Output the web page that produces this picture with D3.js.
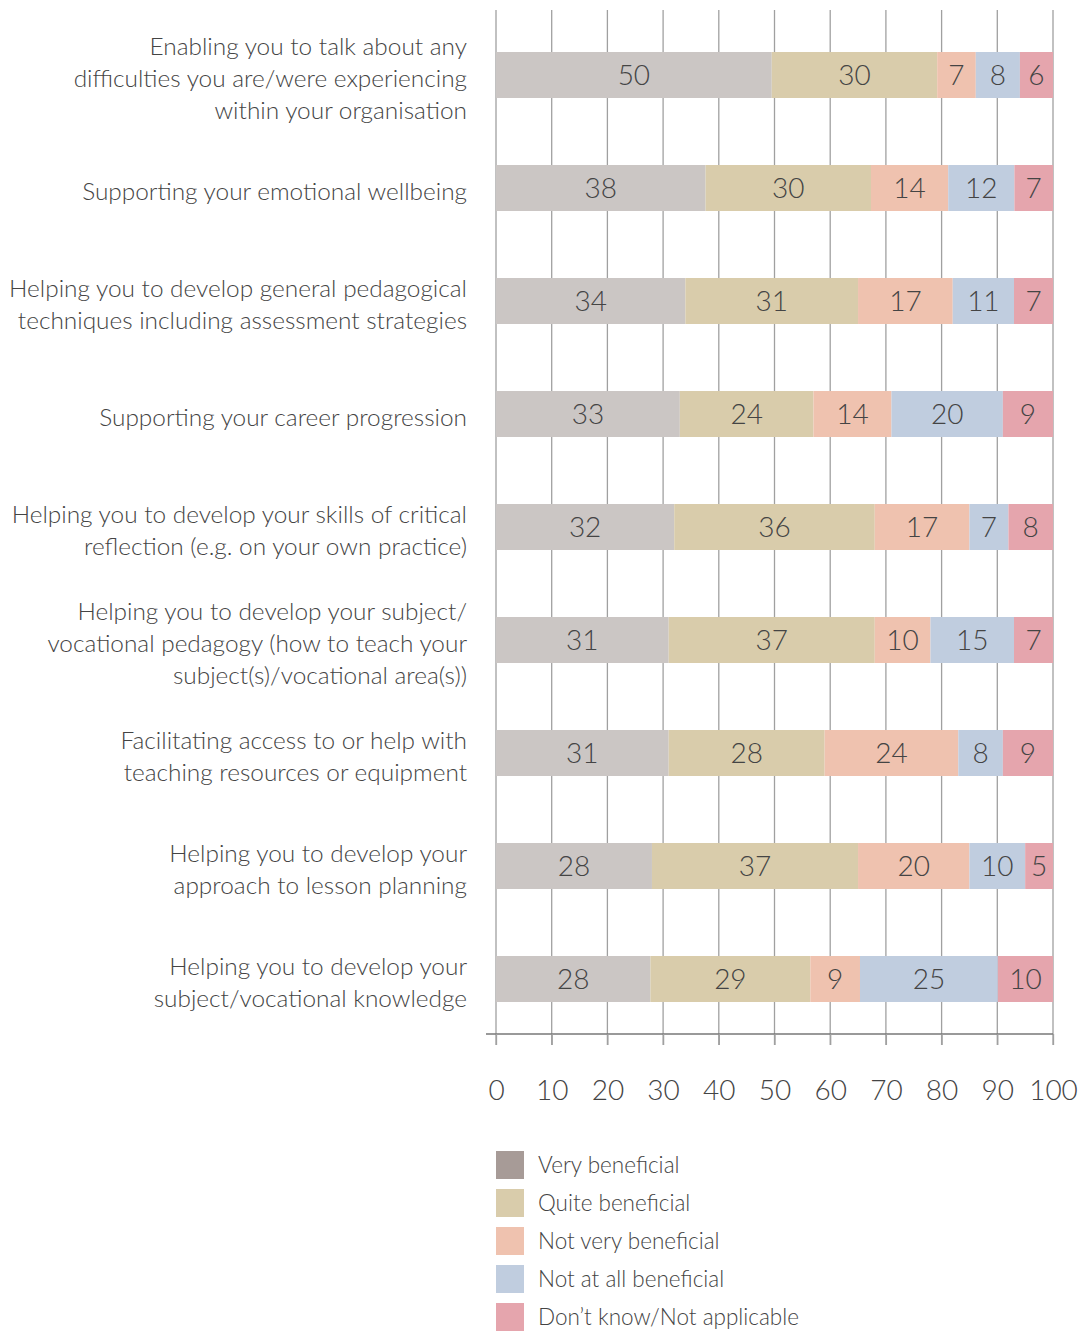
<!DOCTYPE html>
<html>
<head>
<meta charset="utf-8">
<script src="https://cdn.jsdelivr.net/npm/d3@7"></script>
<style>
  body { margin: 0; background: #fff; }
  svg text { font-family: Lato, "Open Sans", sans-serif; font-weight: 300; fill: #444; }
</style>
</head>
<body>
<svg id="chart" width="1083" height="1333"></svg>
<script>
// categories, top to bottom; each label line is its own string
const categories = [
  ["Enabling you to talk about any", "difficulties you are/were experiencing", "within your organisation"],
  ["Supporting your emotional wellbeing"],
  ["Helping you to develop general pedagogical", "techniques including assessment strategies"],
  ["Supporting your career progression"],
  ["Helping you to develop your skills of critical", "reflection (e.g. on your own practice)"],
  ["Helping you to develop your subject/", "vocational pedagogy (how to teach your", "subject(s)/vocational area(s))"],
  ["Facilitating access to or help with", "teaching resources or equipment"],
  ["Helping you to develop your", "approach to lesson planning"],
  ["Helping you to develop your", "subject/vocational knowledge"]
];

const seriesNames = ["Very beneficial", "Quite beneficial", "Not very beneficial", "Not at all beneficial", "Don\u2019t know/Not applicable"];

const veryBeneficial    = [50, 38, 34, 33, 32, 31, 31, 28, 28];
const quiteBeneficial   = [30, 30, 31, 24, 36, 37, 28, 37, 29];
const notVeryBeneficial = [7, 14, 17, 14, 17, 10, 24, 20, 9];
const notAtAllBeneficial = [8, 12, 11, 20, 7, 15, 8, 10, 25];
const dontKnow          = [6, 7, 7, 9, 8, 7, 9, 5, 10];

const xTicks = [0, 10, 20, 30, 40, 50, 60, 70, 80, 90, 100];

const barColors = ["#cbc6c4", "#d9ccab", "#efc2af", "#c0cddf", "#e5a5ad"];
const legendColors = ["#a79b97", "#d9ccab", "#efc2af", "#c0cddf", "#e5a5ad"];

const svg = d3.select("#chart");

const rows = categories.map((c, i) => ({
  idx: i,
  s0: veryBeneficial[i], s1: quiteBeneficial[i], s2: notVeryBeneficial[i],
  s3: notAtAllBeneficial[i], s4: dontKnow[i]
}));
const keys = ["s0", "s1", "s2", "s3", "s4"];

// bars fill the full width, so stack as share of each row's total
const stacked = d3.stack().keys(keys).offset(d3.stackOffsetExpand)(rows);

const x = d3.scaleLinear().domain([0, 1]).range([496, 1053]);
const xAxisScale = d3.scaleLinear().domain([0, 100]).range([496, 1053]);
const y = d3.scaleBand().domain(d3.range(categories.length)).range([18.5, 1035.5]).paddingInner(0.593).paddingOuter(0.2965);

// vertical grid
svg.append("g")
  .selectAll("line")
  .data(xTicks)
  .join("line")
  .attr("x1", d => xAxisScale(d)).attr("x2", d => xAxisScale(d))
  .attr("y1", 10).attr("y2", 1045)
  .attr("stroke", "#a0a0a0").attr("stroke-width", 1.3);

// bars
const layer = svg.append("g")
  .selectAll("g")
  .data(stacked)
  .join("g")
  .attr("fill", (d, i) => barColors[i]);

layer.selectAll("rect")
  .data(d => d)
  .join("rect")
  .attr("x", d => x(d[0]))
  .attr("width", d => x(d[1]) - x(d[0]))
  .attr("y", d => y(d.data.idx))
  .attr("height", y.bandwidth());

// value labels
svg.append("g")
  .selectAll("g")
  .data(stacked)
  .join("g")
  .selectAll("text")
  .data(d => d.map(v => ({ v, key: d.key })))
  .join("text")
  .attr("x", d => (x(d.v[0]) + x(d.v[1])) / 2)
  .attr("y", d => y(d.v.data.idx) + y.bandwidth() / 2)
  .attr("dy", "0.36em")
  .attr("text-anchor", "middle")
  .attr("font-size", 28)
  .text(d => d.v.data[d.key]);

// x axis
const axis = svg.append("g")
  .attr("transform", "translate(0,1034)")
  .call(d3.axisBottom(xAxisScale).tickValues(xTicks).tickSize(11).tickPadding(35));
axis.select(".domain").attr("d", "M486,0H1053").attr("stroke", "#777").attr("stroke-width", 1.3);
axis.selectAll(".tick line").attr("stroke", "#a0a0a0").attr("stroke-width", 1.3);
axis.selectAll(".tick text")
  .attr("font-size", 28)
  .style("fill", "#444")
  .style("font-family", "Lato, 'Open Sans', sans-serif")
  .style("font-weight", 300);

// category labels
const catG = svg.append("g")
  .selectAll("text")
  .data(categories)
  .join("text")
  .attr("text-anchor", "end")
  .attr("font-size", 24.4)
  .attr("x", 467)
  .attr("y", (d, i) => y(i) + y.bandwidth() / 2 + 3);

catG.selectAll("tspan")
  .data(d => d.map((line, j) => ({ line, j, n: d.length })))
  .join("tspan")
  .attr("x", 467)
  .attr("dy", d => d.j === 0 ? ((-(d.n - 1) / 2) * 32 / 24.4 + 0.36) + "em" : (32 / 24.4) + "em")
  .text(d => d.line);

// legend
const legend = svg.append("g")
  .selectAll("g")
  .data(seriesNames)
  .join("g")
  .attr("transform", (d, i) => `translate(496,${1165 + i * 38})`);

legend.append("rect")
  .attr("x", 0).attr("y", -14)
  .attr("width", 28).attr("height", 28)
  .attr("fill", (d, i) => legendColors[i]);

legend.append("text")
  .attr("x", 42)
  .attr("dy", "0.36em")
  .attr("font-size", 22.5)
  .text(d => d);
</script>
</body>
</html>
